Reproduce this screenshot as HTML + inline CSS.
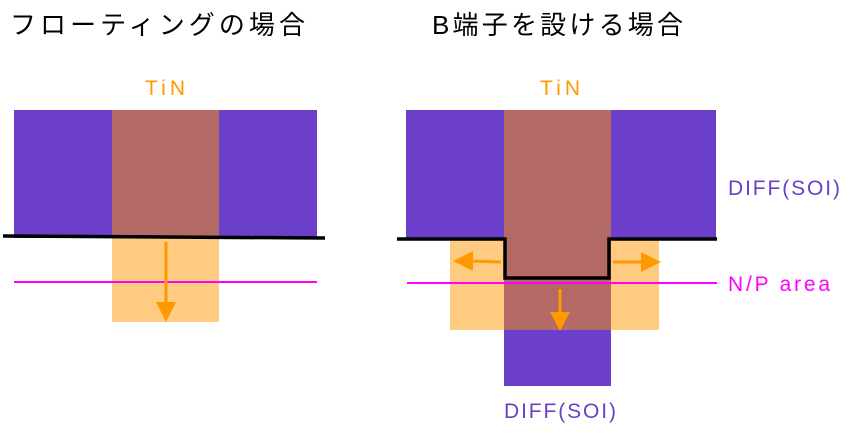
<!DOCTYPE html>
<html><head><meta charset="utf-8"><style>body{margin:0;background:#fff}svg{display:block}</style></head><body>
<svg width="858" height="442" viewBox="0 0 858 442" xmlns="http://www.w3.org/2000/svg" font-family="Liberation Sans, Noto Sans CJK JP, sans-serif">
<text x="10" y="34" font-size="26" fill="#000" textLength="295" lengthAdjust="spacing">フローティングの場合</text>
<text x="432" y="34" font-size="26" fill="#000" textLength="251" lengthAdjust="spacing">B端子を設ける場合</text>
<text x="145" y="95" font-size="21" fill="#ff9900" textLength="40">TiN</text>
<text x="540" y="95" font-size="21" fill="#ff9900" textLength="40">TiN</text>
<!-- left -->
<rect x="14" y="110" width="303" height="128" fill="#6b3fc9"/>
<rect x="112" y="110" width="107" height="128" fill="#b46a64"/>
<rect x="112" y="238" width="107" height="84" fill="#fecb80"/>
<line x1="14" y1="282" x2="317" y2="282" stroke="#ff00ff" stroke-width="2"/>
<line x1="3" y1="236" x2="325" y2="238" stroke="#000" stroke-width="3.5"/>
<line x1="166" y1="242" x2="166" y2="308" stroke="#ff9900" stroke-width="3"/>
<polygon points="156,302 176,302 166,322" fill="#ff9900"/>
<!-- right -->
<rect x="406" y="110" width="310" height="130" fill="#6b3fc9"/>
<rect x="450" y="240" width="209" height="90" fill="#fecb80"/>
<rect x="504" y="110" width="107" height="220" fill="#b46a64"/>
<rect x="504" y="330" width="107" height="56" fill="#6b3fc9"/>
<line x1="407" y1="283" x2="717" y2="283" stroke="#ff00ff" stroke-width="2"/>
<polyline points="397,239 505,239 505,278 609,278 609,239 717,239" fill="none" stroke="#000" stroke-width="3.5"/>
<line x1="501" y1="262" x2="468" y2="261" stroke="#ff9900" stroke-width="3"/>
<polygon points="453,261 473,251 473,271" fill="#ff9900"/>
<line x1="613" y1="262" x2="646" y2="262" stroke="#ff9900" stroke-width="3"/>
<polygon points="661,262 641,252 641,272" fill="#ff9900"/>
<line x1="560" y1="289" x2="560" y2="316" stroke="#ff9900" stroke-width="3"/>
<polygon points="550,312 570,312 560,331" fill="#ff9900"/>
<text x="728" y="195" font-size="21" fill="#6b3fc9" textLength="112">DIFF(SOI)</text>
<text x="728" y="291" font-size="21" fill="#ff00ff" textLength="102">N/P area</text>
<text x="504" y="418" font-size="21" fill="#6b3fc9" textLength="112">DIFF(SOI)</text>
</svg>
</body></html>
